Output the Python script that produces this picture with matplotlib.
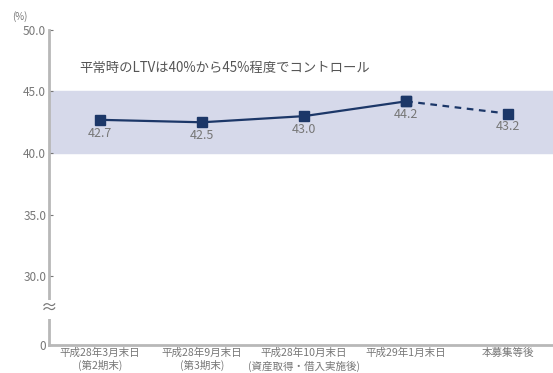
import matplotlib.pyplot as plt
import numpy as np

plt.rcParams['font.family'] = ['Noto Sans CJK JP', 'DejaVu Sans']

categories = ['平成28年3月末日\n(第2期末)', '平成28年9月末日\n(第3期末)',
              '平成28年10月末日\n(資産取得・借入実施後)', '平成29年1月末日', '本募集等後']
ltv = [42.7, 42.5, 43.0, 44.2, 43.2]
yticks = [30.0, 35.0, 40.0, 45.0, 50.0]
zero_pos = 24.43  # where "0" sits after the axis break

navy = '#1c3768'
grey = '#777777'

fig = plt.figure(figsize=(5.53, 3.73), dpi=100)
ax = fig.add_axes([0.0886, 0.075, 0.9114, 0.845])

x = np.arange(len(ltv))
ax.axhspan(40, 45, color='#d6d9ea', zorder=0)
ax.plot(x[:4], ltv[:4], color=navy, lw=1.6, marker='s', ms=6.5, zorder=3)
ax.plot(x[3:], ltv[3:], color=navy, lw=1.6, ls=(0, (3, 2.5)), marker='s', ms=6.5, zorder=3)

for xi, v in zip(x, ltv):
    ax.text(xi, v - 0.55, f'{v:.1f}', ha='center', va='top', fontsize=9, color=grey)

ax.text(-0.2, 46.9, '平常時のLTVは40%から45%程度でコントロール', fontsize=9.6, color='#555555',
        va='center')

ax.set_xlim(-0.5, 4.44)
ax.set_ylim(zero_pos, 50)
ax.set_yticks([zero_pos] + yticks)
ax.set_yticklabels(['0'] + [f'{t:.1f}' for t in yticks])
ax.set_xticks(x)
ax.set_xticklabels(categories, fontsize=7.6, color=grey, linespacing=1.25)

for s in ['top', 'right']:
    ax.spines[s].set_visible(False)
for s in ['left', 'bottom']:
    ax.spines[s].set_color('#b8b8b8')
    ax.spines[s].set_linewidth(2)
ax.tick_params(axis='y', direction='in', length=3, colors=grey, labelsize=8.5, pad=2)
ax.tick_params(axis='x', length=0, pad=2)

# axis break mark
ax.text(-0.5, 27.3, '≈', ha='center', va='center', fontsize=12, color=grey,
        bbox=dict(fc='white', ec='none', pad=0.5), zorder=5, clip_on=False)

fig.text(0.036, 0.955, '(%)', fontsize=7, color=grey, ha='center', va='center')

fig.savefig('out.png', dpi=100)
